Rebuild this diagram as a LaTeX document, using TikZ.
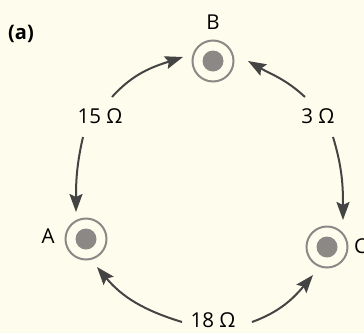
\documentclass[tikz,border=0pt]{standalone}
\usepackage{fontspec}
\setmainfont{Open Sans}
\usetikzlibrary{arrows.meta}
\definecolor{bg}{RGB}{254,253,237}
\definecolor{ring}{RGB}{140,136,133}
\definecolor{arr}{RGB}{68,68,68}
\tikzset{
  ringnode/.style={circle,draw=ring,line width=2pt,minimum size=41pt,inner sep=0pt},
  dotnode/.style={circle,fill=ring,minimum size=21pt,inner sep=0pt},
  lbl/.style={font=\fontsize{20.5}{22}\selectfont,inner sep=0pt},
  conn/.style={draw=arr,line width=2pt,-{Stealth[length=18pt,width=13pt,inset=3pt]}}
}
\begin{document}
\begin{tikzpicture}[x=1pt,y=-1pt]
\useasboundingbox[fill=bg] (0,0) rectangle (364,333);
% rings
\node[ringnode] (B) at (213,61) {};
\node[dotnode] (Bd) at (B) {};
\node[ringnode] (A) at (86,239) {};
\node[dotnode] (Ad) at (A) {};
\node[ringnode] (C) at (327,247) {};
\node[dotnode] (Cd) at (C) {};
% labels
\node[lbl] (Bl) at (213,22) {B};
\node[lbl] (Al) at (48,236) {A};
\node[lbl,anchor=west] (Cl) at (354,246) {C};
\node[lbl,font=\fontsize{20}{22}\selectfont\bfseries] (al) at (21,34) {(a)};
\node[lbl] (r15) at (100,116) {15 Ω};
\node[lbl] (r3) at (318,116) {3 Ω};
\node[lbl] (r18) at (213,320) {18 Ω};
% connector end points
\coordinate (s1) at (112,97);  \coordinate (e1) at (183,57);
\coordinate (s2) at (83,137);  \coordinate (e2) at (76,212);
\coordinate (s3) at (305,97);  \coordinate (e3) at (248,61);
\coordinate (s4) at (333,137); \coordinate (e4) at (343,220);
\coordinate (s5) at (182,322); \coordinate (e5) at (97,267);
\coordinate (s6) at (252,322); \coordinate (e6) at (313,275);
% connectors
\draw[conn] (s1) to[out=48,in=198] (e1);
\draw[conn] (s2) to[out=257,in=90] (e2);
\draw[conn] (s3) to[out=137,in=330] (e3);
\draw[conn] (s4) to[out=287,in=90] (e4);
\draw[conn] (s5) to[out=163,in=310] (e5);
\draw[conn] (s6) to[out=20,in=230] (e6);
\end{tikzpicture}
\end{document}
